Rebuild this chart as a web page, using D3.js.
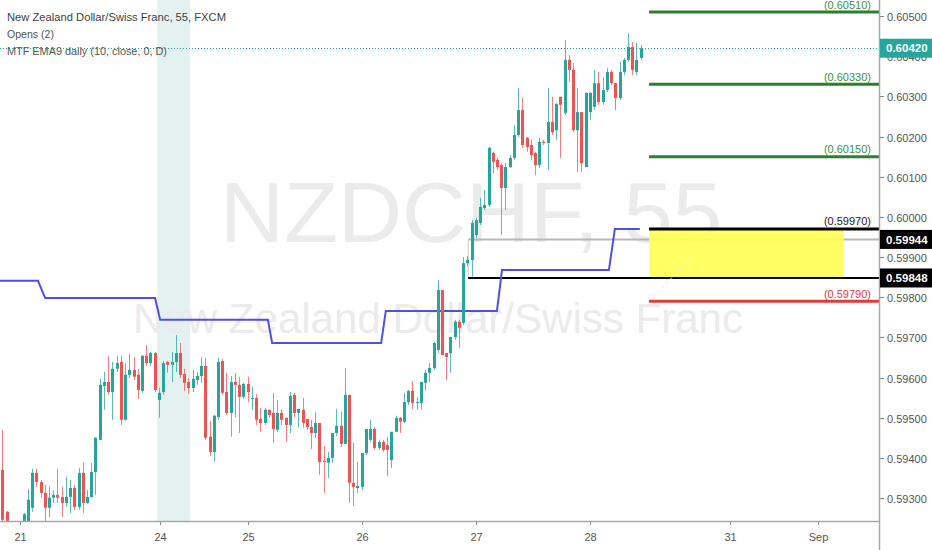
<!DOCTYPE html>
<html><head><meta charset="utf-8">
<script src="https://cdn.jsdelivr.net/npm/d3@7"></script>
<style>html,body{margin:0;padding:0;background:#fff;overflow:hidden}svg{display:block;font-family:"Liberation Sans",Arial,sans-serif}</style>
</head><body><svg id="c" width="932" height="550"></svg>
<script>
// ---- data (NZDCHF 55-minute bars, FXCM) ----
const openP = [0.59370,0.59266,0.59235,0.59215,0.59225,0.59232,0.59241,0.59276,0.59363,0.59340,0.59313,0.59276,0.59301,0.59308,0.59303,0.59288,0.59303,0.59325,0.59278,0.59363,0.59288,0.59303,0.59365,0.59445,0.59579,0.59589,0.59564,0.59622,0.59639,0.59495,0.59607,0.59619,0.59607,0.59567,0.59654,0.59636,0.59661,0.59544,0.59564,0.59639,0.59632,0.59639,0.59661,0.59609,0.59589,0.59574,0.59594,0.59604,0.59629,0.59453,0.59415,0.59502,0.59641,0.59564,0.59512,0.59589,0.59582,0.59552,0.59584,0.59547,0.59549,0.59497,0.59487,0.59520,0.59512,0.59470,0.59512,0.59500,0.59482,0.59557,0.59512,0.59520,0.59497,0.59477,0.59462,0.59487,0.59393,0.59388,0.59400,0.59462,0.59480,0.59435,0.59557,0.59338,0.59325,0.59328,0.59412,0.59445,0.59472,0.59425,0.59440,0.59432,0.59395,0.59465,0.59500,0.59490,0.59539,0.59567,0.59537,0.59537,0.59587,0.59612,0.59624,0.59669,0.59818,0.59661,0.59661,0.59701,0.59739,0.59736,0.59885,0.59893,0.59955,0.59985,0.60022,0.60030,0.60159,0.60142,0.60129,0.60072,0.60124,0.60147,0.60204,0.60266,0.60197,0.60179,0.60159,0.60129,0.60187,0.60184,0.60236,0.60216,0.60299,0.60259,0.60391,0.60366,0.60216,0.60261,0.60124,0.60261,0.60274,0.60333,0.60286,0.60316,0.60361,0.60333,0.60296,0.60361,0.60391,0.60423,0.60361,0.60396];
const highP = [0.59470,0.59268,0.59240,0.59235,0.59238,0.59263,0.59323,0.59373,0.59373,0.59345,0.59333,0.59328,0.59320,0.59373,0.59328,0.59353,0.59345,0.59333,0.59375,0.59388,0.59320,0.59388,0.59452,0.59597,0.59614,0.59654,0.59639,0.59654,0.59654,0.59636,0.59659,0.59651,0.59622,0.59656,0.59681,0.59664,0.59664,0.59574,0.59641,0.59641,0.59664,0.59706,0.59686,0.59622,0.59599,0.59619,0.59614,0.59651,0.59649,0.59492,0.59507,0.59649,0.59646,0.59612,0.59604,0.59612,0.59602,0.59587,0.59602,0.59577,0.59559,0.59524,0.59524,0.59520,0.59562,0.59544,0.59520,0.59500,0.59564,0.59562,0.59522,0.59549,0.59497,0.59495,0.59515,0.59487,0.59430,0.59415,0.59462,0.59522,0.59515,0.59624,0.59557,0.59437,0.59390,0.59412,0.59472,0.59495,0.59477,0.59445,0.59445,0.59453,0.59465,0.59505,0.59502,0.59562,0.59569,0.59592,0.59552,0.59589,0.59619,0.59636,0.59689,0.59843,0.59818,0.59661,0.59701,0.59744,0.59744,0.59900,0.59903,0.59992,0.59997,0.60047,0.60067,0.60174,0.60162,0.60149,0.60134,0.60134,0.60154,0.60229,0.60321,0.60296,0.60199,0.60192,0.60162,0.60197,0.60192,0.60321,0.60299,0.60284,0.60299,0.60440,0.60403,0.60383,0.60321,0.60261,0.60309,0.60311,0.60366,0.60361,0.60348,0.60371,0.60366,0.60333,0.60386,0.60396,0.60458,0.60435,0.60433,0.60428];
const lowP = [0.59233,0.59241,0.59200,0.59190,0.59200,0.59225,0.59233,0.59266,0.59328,0.59301,0.59241,0.59253,0.59288,0.59288,0.59253,0.59278,0.59263,0.59271,0.59271,0.59263,0.59286,0.59301,0.59308,0.59445,0.59520,0.59557,0.59495,0.59614,0.59482,0.59493,0.59599,0.59594,0.59547,0.59562,0.59629,0.59629,0.59564,0.59500,0.59557,0.59612,0.59589,0.59614,0.59599,0.59567,0.59559,0.59564,0.59582,0.59587,0.59445,0.59405,0.59390,0.59495,0.59557,0.59507,0.59453,0.59500,0.59462,0.59547,0.59539,0.59520,0.59482,0.59465,0.59482,0.59500,0.59437,0.59465,0.59482,0.59440,0.59462,0.59502,0.59477,0.59475,0.59470,0.59422,0.59450,0.59358,0.59313,0.59350,0.59388,0.59455,0.59427,0.59435,0.59288,0.59281,0.59313,0.59320,0.59407,0.59440,0.59420,0.59420,0.59415,0.59355,0.59375,0.59465,0.59462,0.59487,0.59532,0.59522,0.59520,0.59520,0.59567,0.59589,0.59619,0.59661,0.59656,0.59594,0.59612,0.59694,0.59674,0.59731,0.59878,0.59851,0.59948,0.59980,0.60017,0.60025,0.60109,0.60117,0.59955,0.60017,0.60122,0.60142,0.60199,0.60172,0.60162,0.60142,0.60104,0.60122,0.60179,0.60117,0.60204,0.60192,0.60147,0.60254,0.60336,0.60211,0.60112,0.60112,0.60124,0.60241,0.60266,0.60279,0.60279,0.60311,0.60328,0.60266,0.60291,0.60353,0.60386,0.60353,0.60353,0.60391];
const closeP = [0.59246,0.59243,0.59215,0.59225,0.59230,0.59260,0.59296,0.59363,0.59340,0.59313,0.59276,0.59301,0.59308,0.59301,0.59288,0.59303,0.59325,0.59278,0.59363,0.59288,0.59303,0.59365,0.59450,0.59582,0.59589,0.59564,0.59622,0.59636,0.59495,0.59607,0.59619,0.59602,0.59569,0.59654,0.59636,0.59661,0.59569,0.59562,0.59636,0.59632,0.59639,0.59661,0.59607,0.59587,0.59574,0.59597,0.59604,0.59629,0.59450,0.59415,0.59505,0.59639,0.59562,0.59512,0.59589,0.59582,0.59552,0.59584,0.59564,0.59549,0.59495,0.59487,0.59520,0.59507,0.59472,0.59512,0.59495,0.59482,0.59554,0.59512,0.59522,0.59487,0.59477,0.59462,0.59487,0.59390,0.59390,0.59400,0.59462,0.59480,0.59435,0.59557,0.59338,0.59328,0.59330,0.59412,0.59472,0.59472,0.59425,0.59440,0.59420,0.59420,0.59465,0.59500,0.59490,0.59539,0.59567,0.59537,0.59539,0.59589,0.59612,0.59624,0.59686,0.59818,0.59656,0.59651,0.59701,0.59739,0.59724,0.59885,0.59893,0.59985,0.59992,0.60025,0.60030,0.60172,0.60137,0.60124,0.60072,0.60124,0.60147,0.60204,0.60266,0.60179,0.60174,0.60154,0.60129,0.60187,0.60184,0.60236,0.60211,0.60281,0.60279,0.60391,0.60366,0.60216,0.60261,0.60134,0.60309,0.60309,0.60333,0.60286,0.60316,0.60361,0.60333,0.60296,0.60361,0.60391,0.60423,0.60366,0.60391,0.60420];

const dayTickIdx = [4.1, 37.3, 58.1, 85.1, 112, 139, 172.1, 193];
const dayTickLabels = ["21","24","25","26","27","28","31","Sep"];
const priceTicks = [0.593,0.594,0.595,0.596,0.597,0.598,0.599,0.600,0.601,0.602,0.603,0.604,0.605];

// MTF EMA9 daily step line (bar index, value)
const emaIdx = [-1, 8.4, 10.1, 36.1, 37.3, 62.8, 63.8, 89.6, 90.7, 117, 118.2, 143.5, 144.9, 150.8];
const emaVal = [0.59841,0.59841,0.59798,0.59798,0.59744,0.59744,0.59686,0.59686,0.59766,0.59766,0.59868,0.59868,0.59970,0.59970];

const sessionBand = [36.6, 44.4];
const targetLevels = [0.60510, 0.60330, 0.60150];
const entryLevel = 0.59970;
const stopLevel = 0.59790;
const zoneLevels = [0.59970, 0.59848];
const zoneIdx = [153, 199.1];
const levelStartIdx = 153;
const opensLevels = [0.59944, 0.59848];
const opensStartIdx = 110.2;
const lastPrice = 0.60420;

const legendLines = ["New Zealand Dollar/Swiss Franc, 55, FXCM", "Opens (2)", "MTF EMA9 daily (10, close, 0, D)"];

// ---- drawing ----
const W = 879, H = 521;
const svg = d3.select("#c");
const x = d3.scaleLinear().domain([-0.59, 207.4]).range([0, W]);
const y = d3.scaleLinear().domain([0.59243, 0.60540]).range([H, 0]);
const fmt = d3.format(".5f");
const TEAL = "#26a69a", RED = "#ef5350";

svg.append("defs").append("clipPath").attr("id","pc").append("rect").attr("x",0).attr("y",0).attr("width",W).attr("height",H);
const plot = svg.append("g").attr("clip-path","url(#pc)");

// session highlight
plot.append("rect").attr("x", x(sessionBand[0])).attr("y",0).attr("width", x(sessionBand[1]) - x(sessionBand[0])).attr("height", H).attr("fill","#e3f2f1");

// watermark
plot.append("text").attr("x",220).attr("y",242).attr("font-size",86).attr("fill","#ebebec")
  .attr("textLength",502).attr("lengthAdjust","spacingAndGlyphs").text("NZDCHF, 55");
plot.append("text").attr("x",133).attr("y",333).attr("font-size",43).attr("fill","#ebebec")
  .attr("textLength",610).attr("lengthAdjust","spacingAndGlyphs").text("New Zealand Dollar/Swiss Franc");

// opens lines
plot.append("line").attr("x1",x(opensStartIdx)).attr("x2",W).attr("y1",y(opensLevels[0])).attr("y2",y(opensLevels[0])).attr("stroke","#b8b8b8").attr("stroke-width",2);
plot.append("line").attr("x1",x(opensStartIdx)).attr("x2",x(opensStartIdx)).attr("y1",y(opensLevels[0])).attr("y2",y(opensLevels[1])).attr("stroke","#c8c8c8").attr("stroke-width",1);

// yellow zone
plot.append("rect").attr("x",x(zoneIdx[0])).attr("width",x(zoneIdx[1])-x(zoneIdx[0]))
  .attr("y",y(zoneLevels[0])).attr("height",y(zoneLevels[1])-y(zoneLevels[0])).attr("fill","#ffff57").attr("opacity",0.92);

plot.append("line").attr("x1",x(opensStartIdx)).attr("x2",W).attr("y1",y(opensLevels[1])).attr("y2",y(opensLevels[1])).attr("stroke","#000").attr("stroke-width",2);

// faint projection line
plot.append("line").attr("x1",x(levelStartIdx)).attr("y1",y(stopLevel)).attr("x2",x(levelStartIdx+10)).attr("y2",y(0.59900))
  .attr("stroke","#e4e4e4").attr("stroke-width",1).attr("stroke-dasharray","3,3");

// EMA step line
const emaLine = d3.line().x(d => x(d[0])).y(d => y(d[1]));
plot.append("path").datum(emaIdx.map((d,i)=>[d, emaVal[i]])).attr("d", emaLine)
  .attr("fill","none").attr("stroke","#5050e6").attr("stroke-width",2);

// level lines
const levelsG = svg.append("g");
function level(v, color, textColor){
  levelsG.append("line").attr("x1",x(levelStartIdx)).attr("x2",W).attr("y1",y(v)).attr("y2",y(v)).attr("stroke",color).attr("stroke-width",3);
  levelsG.append("text").attr("x",871).attr("y",y(v)-3.5).attr("text-anchor","end").attr("font-size",11).attr("fill",textColor).text("(" + fmt(v) + ")");
}
targetLevels.forEach(v => level(v, "#2e7d32", "#3f8f44"));
level(entryLevel, "#000", "#222");
level(stopLevel, "#e53935", "#e53935");

// candles
const bars = openP.map((o,i)=>({i, o, h:highP[i], l:lowP[i], c:closeP[i]}));
const cg = plot.append("g");
cg.selectAll("line.w").data(bars).join("line")
  .attr("x1",d=>Math.round(x(d.i))+0.5).attr("x2",d=>Math.round(x(d.i))+0.5)
  .attr("y1",d=>y(d.h)).attr("y2",d=>y(d.l))
  .attr("stroke",d=>d.c>=d.o?TEAL:RED).attr("stroke-opacity",0.75).attr("stroke-width",1);
cg.selectAll("rect.b").data(bars).join("rect")
  .attr("x",d=>Math.round(x(d.i))-1).attr("width",3)
  .attr("y",d=>y(Math.max(d.o,d.c))).attr("height",d=>Math.max(1, Math.abs(y(d.o)-y(d.c))))
  .attr("fill",d=>d.c>=d.o?TEAL:RED);

// last price dotted line
svg.append("line").attr("x1",0).attr("x2",W).attr("y1",Math.round(y(lastPrice))+0.5).attr("y2",Math.round(y(lastPrice))+0.5)
  .attr("stroke",TEAL).attr("stroke-width",1).attr("stroke-dasharray","1,2");

// legend
const lg = svg.append("g");
const legW = [219, 47, 160];
legendLines.forEach((t,k)=>{
  lg.append("text").attr("x",7).attr("y",20.5 + k*17.3).attr("font-size",11.5)
    .attr("fill", k===0 ? "#3f3f3f" : "#555").attr("textLength",legW[k]).attr("lengthAdjust","spacingAndGlyphs").text(t);
});

// axes
svg.append("line").attr("x1",0).attr("x2",W).attr("y1",H+0.5).attr("y2",H+0.5).attr("stroke","#a8a8a8").attr("stroke-width",1.5);
svg.append("line").attr("x1",W+0.5).attr("x2",W+0.5).attr("y1",0).attr("y2",550).attr("stroke","#a8a8a8").attr("stroke-width",1.5);

const ya = svg.append("g");
priceTicks.forEach(p=>{
  const yy = Math.round(y(p))+0.5;
  ya.append("line").attr("x1",W+1).attr("x2",W+5).attr("y1",yy).attr("y2",yy).attr("stroke","#888");
  ya.append("text").attr("x",887).attr("y",yy+4).attr("font-size",11).attr("fill","#555").text(fmt(p));
});
const xa = svg.append("g");
dayTickIdx.forEach((d,k)=>{
  const xx = Math.round(x(d))+0.5;
  xa.append("line").attr("x1",xx).attr("x2",xx).attr("y1",H+1).attr("y2",H+4).attr("stroke","#888");
  xa.append("text").attr("x",xx).attr("y",541).attr("text-anchor","middle").attr("font-size",11).attr("fill","#555").text(dayTickLabels[k]);
});

// price labels on the axis
function tag(v, fill){
  const yy = y(v);
  svg.append("rect").attr("x",W+1).attr("y",yy-9.5).attr("width",932-W-1).attr("height",19).attr("fill",fill);
  svg.append("text").attr("x",886).attr("y",yy+4.2).attr("font-size",11.5).attr("font-weight","bold").attr("fill","#fff").text(fmt(v));
}
tag(lastPrice, TEAL);
tag(opensLevels[0], "#000");
tag(opensLevels[1], "#000");
</script></body></html>
